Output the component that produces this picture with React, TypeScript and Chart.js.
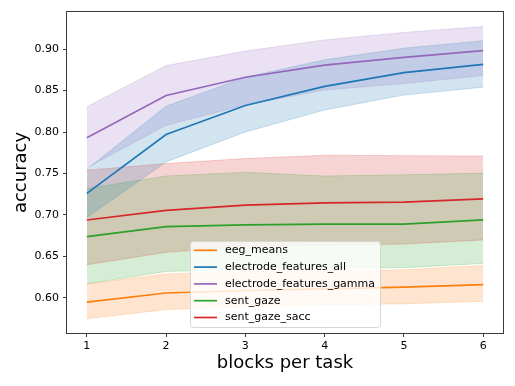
import React, { useEffect, useRef } from 'react';
import { Chart, registerables } from 'chart.js';
Chart.register(...registerables);

const blocks = [1, 2, 3, 4, 5, 6];
const xTicks = [1, 2, 3, 4, 5, 6];
const yTicks = [0.6, 0.65, 0.7, 0.75, 0.8, 0.85, 0.9];

const seriesNames = ['eeg_means', 'electrode_features_all', 'electrode_features_gamma', 'sent_gaze', 'sent_gaze_sacc'];
const seriesColors = ['#ff7f0e', '#1f77b4', '#9467bd', '#2ca02c', '#d62728'];

const eegMeansMean = [0.595, 0.606, 0.609, 0.611, 0.613, 0.616];
const eegMeansHigh = [0.617, 0.629, 0.632, 0.6325, 0.634, 0.639];
const eegMeansLow = [0.575, 0.586, 0.5895, 0.5915, 0.593, 0.596];

const elecAllMean = [0.726, 0.797, 0.832, 0.855, 0.8715, 0.8815];
const elecAllHigh = [0.755, 0.831, 0.866, 0.887, 0.901, 0.91];
const elecAllLow = [0.697, 0.764, 0.8, 0.8265, 0.8445, 0.854];

const elecGammaMean = [0.793, 0.844, 0.866, 0.8805, 0.89, 0.898];
const elecGammaHigh = [0.8305, 0.88, 0.8975, 0.911, 0.92, 0.927];
const elecGammaLow = [0.757, 0.808, 0.8325, 0.8505, 0.8585, 0.868];

const sentGazeMean = [0.674, 0.686, 0.688, 0.689, 0.689, 0.694];
const sentGazeHigh = [0.732, 0.747, 0.7515, 0.747, 0.7485, 0.7505];
const sentGazeLow = [0.617, 0.632, 0.6345, 0.636, 0.6365, 0.6415];

const sentGazeSaccMean = [0.694, 0.7055, 0.712, 0.7145, 0.7155, 0.7195];
const sentGazeSaccHigh = [0.754, 0.762, 0.768, 0.772, 0.7715, 0.771];
const sentGazeSaccLow = [0.64, 0.655, 0.662, 0.6635, 0.665, 0.67];

const means = [eegMeansMean, elecAllMean, elecGammaMean, sentGazeMean, sentGazeSaccMean];
const highs = [eegMeansHigh, elecAllHigh, elecGammaHigh, sentGazeHigh, sentGazeSaccHigh];
const lows = [eegMeansLow, elecAllLow, elecGammaLow, sentGazeLow, sentGazeSaccLow];

const FONT = '"DejaVu Sans", sans-serif';

function rgba(hex: string, a: number) {
  const n = parseInt(hex.slice(1), 16);
  return `rgba(${(n >> 16) & 255},${(n >> 8) & 255},${n & 255},${a})`;
}

const toPts = (ys: number[]) => blocks.map((x, i) => ({ x, y: ys[i] }));

const framePlugin = {
  id: 'frame',
  afterDatasetsDraw(chart: any) {
    const { ctx, chartArea: a } = chart;
    ctx.save();
    ctx.strokeStyle = '#3a3a3a';
    ctx.lineWidth = 1;
    ctx.strokeRect(Math.round(a.left) - 0.5, Math.round(a.top) - 0.5, Math.round(a.right - a.left) + 1, Math.round(a.bottom - a.top) + 1);
    ctx.restore();
  },
};

const legendPlugin = {
  id: 'mplLegend',
  afterDraw(chart: any) {
    const { ctx, chartArea: a } = chart;
    ctx.save();
    ctx.font = `11px ${FONT}`;
    const textW = Math.max(...seriesNames.map((n) => ctx.measureText(n).width));
    const padL = 4, handleLen = 23, gap = 8, padR = 5, rowH = 16.8, padT = 9, padB = 10;
    const boxW = padL + handleLen + gap + textW + padR;
    const boxH = padT + padB + rowH * (seriesNames.length - 1);
    const x0 = (a.left + a.right) / 2 - boxW / 2;
    const y1 = a.bottom - 5.5;
    const y0 = y1 - boxH;
    ctx.beginPath();
    ctx.roundRect(Math.round(x0) + 0.5, Math.round(y0) + 0.5, Math.round(boxW), Math.round(boxH), 3);
    ctx.fillStyle = 'rgba(255,255,255,0.8)';
    ctx.fill();
    ctx.strokeStyle = '#d6d6d6';
    ctx.lineWidth = 1;
    ctx.stroke();
    seriesNames.forEach((name, i) => {
      const cy = y0 + padT + i * rowH;
      ctx.beginPath();
      ctx.moveTo(x0 + padL, cy);
      ctx.lineTo(x0 + padL + handleLen, cy);
      ctx.strokeStyle = seriesColors[i];
      ctx.lineWidth = 1.7;
      ctx.stroke();
      ctx.fillStyle = '#000';
      ctx.textBaseline = 'middle';
      ctx.textAlign = 'left';
      ctx.fillText(name, x0 + padL + handleLen + gap, cy);
    });
    ctx.restore();
  },
};

export default function App() {
  const ref = useRef<HTMLCanvasElement | null>(null);
  useEffect(() => {
    document.body.style.margin = '0';
    const datasets: any[] = [];
    seriesNames.forEach((name, i) => {
      const c = seriesColors[i];
      datasets.push({
        label: name + '_hi',
        data: toPts(highs[i]),
        fill: '+1',
        backgroundColor: rgba(c, 0.2),
        borderColor: rgba(c, 0.2),
        borderWidth: 1,
        pointRadius: 0,
        order: 2,
      });
      datasets.push({
        label: name + '_lo',
        data: toPts(lows[i]),
        fill: false,
        borderColor: rgba(c, 0.2),
        borderWidth: 1,
        pointRadius: 0,
        order: 2,
      });
    });
    seriesNames.forEach((name, i) => {
      datasets.push({
        label: name,
        data: toPts(means[i]),
        fill: false,
        borderColor: seriesColors[i],
        borderWidth: 1.7,
        pointRadius: 0,
        order: 1,
      });
    });
    const chart = new Chart(ref.current as HTMLCanvasElement, {
      type: 'line',
      data: { datasets },
      plugins: [framePlugin, legendPlugin],
      options: {
        animation: false,
        responsive: false,
        devicePixelRatio: 1,
        layout: { padding: { top: 12, right: 12, left: 0, bottom: 0 } },
        plugins: { legend: { display: false }, tooltip: { enabled: false }, filler: { drawTime: 'beforeDatasetsDraw' } },
        elements: { line: { tension: 0 } },
        scales: {
          x: {
            type: 'linear',
            min: 0.75,
            max: 6.25,
            afterBuildTicks: (s: any) => { s.ticks = xTicks.map((v) => ({ value: v })); },
            afterFit: (s: any) => { s.height = 53; },
            border: { display: false },
            grid: { display: true, drawOnChartArea: false, drawTicks: true, tickLength: 4, color: '#3a3a3a' },
            ticks: { color: '#000', font: { family: FONT, size: 11 }, padding: 3, maxRotation: 0, callback: (v: any) => String(v) },
            title: { display: true, text: 'blocks per task', color: '#000', font: { family: FONT, size: 18 }, padding: { top: 0, bottom: 12 } },
          },
          y: {
            type: 'linear',
            min: 0.5578,
            max: 0.9446,
            afterBuildTicks: (s: any) => { s.ticks = yTicks.map((v) => ({ value: v })); },
            afterFit: (s: any) => { s.width = 67; },
            border: { display: false },
            grid: { display: true, drawOnChartArea: false, drawTicks: true, tickLength: 4, color: '#3a3a3a' },
            ticks: { color: '#000', font: { family: FONT, size: 11 }, padding: 4, callback: (v: any) => Number(v).toFixed(2) },
            title: { display: true, text: 'accuracy', color: '#000', font: { family: FONT, size: 18 }, padding: { top: 11, bottom: 0 } },
          },
        },
      },
    } as any);
    return () => chart.destroy();
  }, []);
  return (
    <div style={{ position: 'fixed', left: 0, top: 0, width: 515, height: 386, background: '#fff' }}>
      <canvas ref={ref} width={515} height={386} style={{ width: 515, height: 386, display: 'block' }} />
    </div>
  );
}
